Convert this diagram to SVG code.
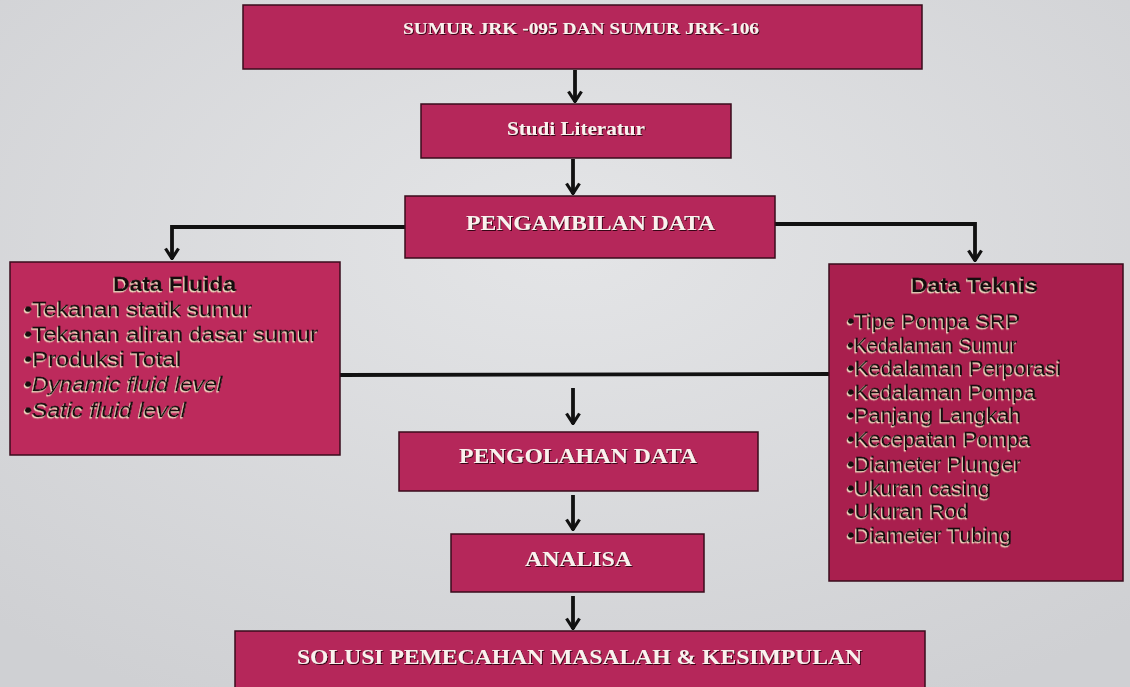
<svg xmlns="http://www.w3.org/2000/svg" width="1130" height="687" viewBox="0 0 1130 687">
<defs>
<radialGradient id="bg" cx="0.5" cy="0.35" r="0.75">
<stop offset="0" stop-color="#e4e5e7"/>
<stop offset="1" stop-color="#cfd0d3"/>
</radialGradient>
<filter id="sh" x="-5%" y="-20%" width="110%" height="140%">
<feDropShadow dx="1" dy="1" stdDeviation="0.6" flood-color="#2a0610" flood-opacity="0.9"/>
</filter>
<filter id="emb" x="-5%" y="-20%" width="110%" height="140%">
<feDropShadow dx="-1" dy="1.3" stdDeviation="0.3" flood-color="#f6e6c8" flood-opacity="0.95"/>
</filter>
<marker id="av" viewBox="0 0 16 13" refX="8" refY="12" markerWidth="16" markerHeight="13" markerUnits="userSpaceOnUse" orient="0">
<path d="M1.5,1.5 L8,11.5 L14.5,1.5" fill="none" stroke="#111" stroke-width="3.2"/>
</marker>
</defs>
<style>
.box{fill:#b5275a;stroke:#3a0c1c;stroke-width:1.5}
.t{font-family:"Liberation Serif",serif;font-weight:bold;fill:#fbf1ee;filter:url(#sh)}
.d{font-family:"Liberation Sans",Arial,sans-serif;font-size:20px;fill:#151010;stroke:#151010;stroke-width:0.3;filter:url(#emb)}
.dt{font-weight:bold}
.it{font-style:italic}
.c{fill:none;stroke:#111;stroke-width:3.8}
</style>
<rect x="0" y="0" width="1130" height="687" fill="url(#bg)"/>

<g id="connectors">
<line class="c" x1="575" y1="70" x2="575" y2="102" marker-end="url(#av)"/>
<line class="c" x1="573" y1="159" x2="573" y2="194" marker-end="url(#av)"/>
<polyline class="c" points="405,227 172,227 172,259" marker-end="url(#av)"/>
<polyline class="c" points="775,224 975,224 975,261" marker-end="url(#av)"/>
<line class="c" x1="340" y1="375" x2="829" y2="374"/>
<line class="c" x1="573" y1="388" x2="573" y2="424" marker-end="url(#av)"/>
<line class="c" x1="573" y1="495" x2="573" y2="530" marker-end="url(#av)"/>
<line class="c" x1="573" y1="596" x2="573" y2="629" marker-end="url(#av)"/>
</g>

<g id="sumur">
<rect class="box" x="243" y="5" width="679" height="64"/>
<text class="t" x="403" y="34" font-size="17" textLength="356" lengthAdjust="spacingAndGlyphs">SUMUR  JRK -095 DAN SUMUR JRK-106</text>
</g>

<g id="studi">
<rect class="box" x="421" y="104" width="310" height="54"/>
<text class="t" x="507" y="135" font-size="18" textLength="138" lengthAdjust="spacingAndGlyphs">Studi Literatur</text>
</g>

<g id="pengambilan">
<rect class="box" x="405" y="196" width="370" height="62"/>
<text class="t" x="466" y="230" font-size="21" textLength="249" lengthAdjust="spacingAndGlyphs">PENGAMBILAN DATA</text>
</g>

<g id="fluida">
<rect class="box" x="10" y="262" width="330" height="193" style="fill:#bd2a5c"/>
<text class="d dt" x="113" y="291" textLength="123" lengthAdjust="spacingAndGlyphs">Data Fluida</text>
<text class="d" x="24" y="316" textLength="228" lengthAdjust="spacingAndGlyphs">•Tekanan statik sumur</text>
<text class="d" x="24" y="341" textLength="294" lengthAdjust="spacingAndGlyphs">•Tekanan aliran dasar sumur</text>
<text class="d" x="24" y="366" textLength="157" lengthAdjust="spacingAndGlyphs">•Produksi Total</text>
<text class="d" x="24" y="391" textLength="198" lengthAdjust="spacingAndGlyphs">•<tspan class="it">Dynamic fluid level</tspan></text>
<text class="d" x="24" y="417" textLength="162" lengthAdjust="spacingAndGlyphs">•<tspan class="it">Satic fluid level</tspan></text>
</g>

<g id="teknis">
<rect class="box" x="829" y="264" width="294" height="317" style="fill:#a91f4e"/>
<text class="d dt" x="911" y="292" textLength="127" lengthAdjust="spacingAndGlyphs">Data  Teknis</text>
<text class="d" x="847" y="328" textLength="173" lengthAdjust="spacingAndGlyphs">•Tipe Pompa SRP</text>
<text class="d" x="847" y="352" textLength="170" lengthAdjust="spacingAndGlyphs">•Kedalaman Sumur</text>
<text class="d" x="847" y="375" textLength="214" lengthAdjust="spacingAndGlyphs">•Kedalaman Perporasi</text>
<text class="d" x="847" y="399" textLength="189" lengthAdjust="spacingAndGlyphs">•Kedalaman Pompa</text>
<text class="d" x="847" y="422" textLength="174" lengthAdjust="spacingAndGlyphs">•Panjang Langkah</text>
<text class="d" x="847" y="446" textLength="184" lengthAdjust="spacingAndGlyphs">•Kecepatan Pompa</text>
<text class="d" x="847" y="471" textLength="174" lengthAdjust="spacingAndGlyphs">•Diameter Plunger</text>
<text class="d" x="847" y="495" textLength="144" lengthAdjust="spacingAndGlyphs">•Ukuran casing</text>
<text class="d" x="847" y="518" textLength="122" lengthAdjust="spacingAndGlyphs">•Ukuran Rod</text>
<text class="d" x="847" y="542" textLength="165" lengthAdjust="spacingAndGlyphs">•Diameter Tubing</text>
</g>

<g id="pengolahan">
<rect class="box" x="399" y="432" width="359" height="59"/>
<text class="t" x="459" y="463" font-size="21" textLength="238" lengthAdjust="spacingAndGlyphs">PENGOLAHAN DATA</text>
</g>

<g id="analisa">
<rect class="box" x="451" y="534" width="253" height="58"/>
<text class="t" x="525" y="566" font-size="21" textLength="107" lengthAdjust="spacingAndGlyphs">ANALISA</text>
</g>

<g id="solusi">
<rect class="box" x="235" y="631" width="690" height="62"/>
<text class="t" x="297" y="664" font-size="21" textLength="565" lengthAdjust="spacingAndGlyphs">SOLUSI PEMECAHAN MASALAH &amp; KESIMPULAN</text>
</g>
</svg>
